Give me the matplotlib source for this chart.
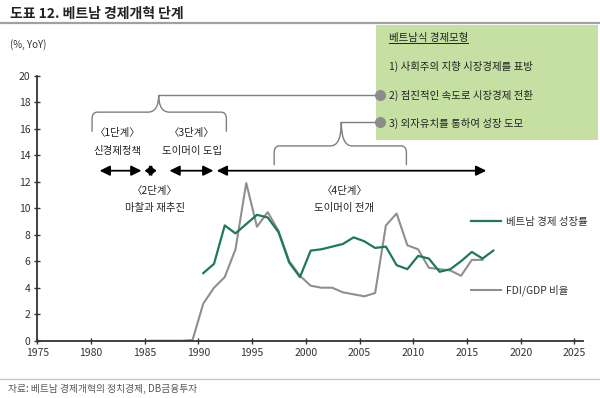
import matplotlib
matplotlib.use("Agg")
import matplotlib.pyplot as plt
import numpy as np
from matplotlib.path import Path
from matplotlib.patches import PathPatch, Rectangle
from matplotlib.lines import Line2D

plt.rcParams['font.family'] = ['Noto Sans CJK KR', 'DejaVu Sans']

# data (annual, %)
gdp_years = list(range(1990, 2018))
gdp_growth = [5.1, 5.8, 8.7, 8.1, 8.8, 9.5, 9.3, 8.2, 5.9, 4.8,
              6.8, 6.9, 7.1, 7.3, 7.8, 7.5, 7.0, 7.1, 5.7, 5.4,
              6.4, 6.2, 5.2, 5.4, 6.0, 6.7, 6.2, 6.8]
fdi_years = list(range(1985, 2017))
fdi_ratio = [0, 0, 0, 0, 0.05, 2.8, 4.0, 4.8, 6.9, 11.9,
             8.6, 9.7, 8.3, 6.0, 4.9, 4.15, 4.0, 4.0, 3.65, 3.5,
             3.35, 3.6, 8.7, 9.6, 7.2, 6.9, 5.5, 5.4, 5.3, 4.9,
             6.1, 6.1]
series_labels = ['베트남 경제 성장률', 'FDI/GDP 비율']

# stages: (start, end) of arrows and label text
stage_spans = [(1980.8, 1984.7), (1985.0, 1986.1), (1987.3, 1991.4), (1991.7, 2016.8)]
stage_titles = ['〈1단계〉', '〈2단계〉', '〈3단계〉', '〈4단계〉']
stage_names = ['신경제정책', '마찰과 재추진', '도이머이 도입', '도이머이 전개']
stage_label_pos = [(1982.5, 15.65), (1985.95, 11.28), (1989.4, 15.65), (2003.6, 11.32)]

model_title = '베트남식 경제모형'
model_items = ['1) 사회주의 지향 시장경제를 표방',
               '2) 점진적인 속도로 시장경제 전환',
               '3) 외자유치를 통하여 성장 도모']

GREEN = '#1d7a55'
GREY = '#8f8f8f'
TXT = '#333333'

W, H = 600, 398
fig = plt.figure(figsize=(6, 3.98), dpi=100)


def fx(px):
    return px / W


def fy(py):
    return 1 - py / H


ax = fig.add_axes([fx(37.3), fy(340.7), fx(583) - fx(37.3), fy(75.7) - fy(340.7)])
ax.set_zorder(3)
ax.patch.set_visible(False)

off = 0.45  # points sit mid-year on the date axis
ax.plot(np.array(fdi_years) + off, fdi_ratio, color=GREY, lw=1.5, label=series_labels[1], zorder=2)
ax.plot(np.array(gdp_years) + off, gdp_growth, color=GREEN, lw=1.6, label=series_labels[0], zorder=3)

ax.set_xlim(1975, 2025.8)
ax.set_ylim(0, 20)
ax.set_xticks(range(1975, 2026, 5))
ax.set_yticks(range(0, 21, 2))
for s in ['top', 'right']:
    ax.spines[s].set_visible(False)
for s in ['left', 'bottom']:
    ax.spines[s].set_color('#333333')
    ax.spines[s].set_linewidth(1.3)
ax.tick_params(direction='inout', length=4, width=1, color='#333333',
               labelsize=7.5, labelcolor=TXT, pad=3)

# legend with the two entries spaced far apart
h, l = ax.get_legend_handles_labels()
ax.legend(h[::-1], l[::-1], loc='upper left', bbox_to_anchor=(fx(471), fy(217)),
          bbox_transform=fig.transFigure, frameon=False, fontsize=7.5,
          handlelength=2.9, handletextpad=0.5, labelspacing=5.5,
          borderpad=0, borderaxespad=0, labelcolor=TXT)

# stage arrows
for i, (a, b) in enumerate(stage_spans):
    hl = 0.35 if i == 1 else 0.55
    ax.annotate('', xy=(b, 12.83), xytext=(a, 12.83),
                arrowprops=dict(arrowstyle='<|-|>,head_length=%.2f,head_width=0.27' % hl,
                                color='black', lw=1.3,
                                mutation_scale=11, shrinkA=0, shrinkB=0))
for (x, y), t, n in zip(stage_label_pos, stage_titles, stage_names):
    ax.text(x, y, t, ha='center', va='center', fontsize=7.5, color='#222222')
    ax.text(x, y - 1.3, n, ha='center', va='center', fontsize=7.5, color='#222222')


# curly braces linking stages to the model box
def brace(x0, x1, xm, yb, yh, ypk, rx=0.5, ry=0.5, rm=1.0):
    verts = [(x0, yb), (x0, yh - ry), (x0, yh), (x0 + rx, yh),
             (xm - rm, yh), (xm, yh), (xm, ypk),
             (xm, yh), (xm + rm, yh),
             (x1 - rx, yh), (x1, yh), (x1, yh - ry), (x1, yb)]
    codes = [Path.MOVETO, Path.LINETO, Path.CURVE3, Path.CURVE3,
             Path.LINETO, Path.CURVE3, Path.CURVE3,
             Path.CURVE3, Path.CURVE3,
             Path.LINETO, Path.CURVE3, Path.CURVE3, Path.LINETO]
    ax.add_patch(PathPatch(Path(verts, codes), fill=False, edgecolor='#7f7f7f',
                           lw=1.0, clip_on=False, zorder=4))


circle_x = 2006.87
brace(1980.1, 1992.6, 1986.3, 15.77, 17.25, 18.55)
brace(1997.05, 2009.36, 2003.3, 13.25, 14.7, 16.5)
for xs, yv in [(1986.3, 18.55), (2003.3, 16.5)]:
    ax.plot([xs, circle_x], [yv, yv], color='#7f7f7f', lw=1.0, zorder=4, clip_on=False)
    ax.plot([circle_x], [yv], 'o', color='#8c8c8c', ms=7, zorder=5, clip_on=False)

# model box (behind the axes layer)
fig.patches.append(Rectangle((fx(376), fy(140)), fx(598) - fx(376), fy(25) - fy(140),
                             transform=fig.transFigure, facecolor='#c6e0a4',
                             edgecolor='none', zorder=1))
t0 = fig.text(fx(389), fy(38.3), model_title, fontsize=7.5, color='#222222', va='center')
for i, item in enumerate(model_items):
    fig.text(fx(389), fy(66.7 + 28.3 * i), item, fontsize=7.5, color='#222222', va='center')
fig.canvas.draw()
bb = t0.get_window_extent().transformed(fig.transFigure.inverted())
fig.add_artist(Line2D([bb.x0, bb.x1], [bb.y0 + 0.002, bb.y0 + 0.002],
                      transform=fig.transFigure, color='#222222', lw=0.7))

# title, units, footer
fig.text(fx(10), fy(13.5), '도표 12. 베트남 경제개혁 단계', fontsize=10, fontweight='bold',
         color='#222222', va='center')
fig.add_artist(Line2D([0, 1], [fy(22.7), fy(22.7)], transform=fig.transFigure,
                      color='#a0a0a0', lw=1.6))
fig.text(fx(10), fy(44.3), '(%, YoY)', fontsize=7, color=TXT, va='center')
fig.add_artist(Line2D([0, 1], [fy(379.3), fy(379.3)], transform=fig.transFigure,
                      color='#c8c8c8', lw=1.0))
fig.text(fx(8), fy(388.5), '자료: 베트남 경제개혁의 정치경제, DB금융투자', fontsize=7,
         color='#555555', va='center')

fig.savefig('out.png', dpi=100)
